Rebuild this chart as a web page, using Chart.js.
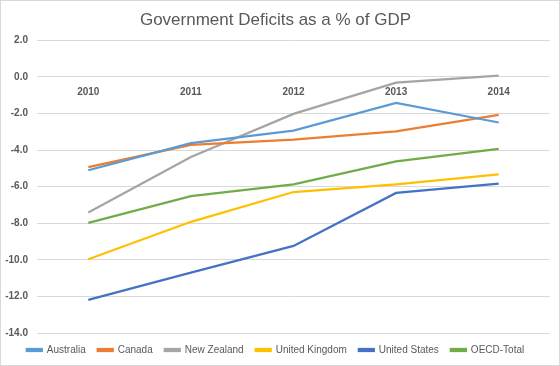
<!DOCTYPE html>
<html>
<head>
<meta charset="utf-8">
<script src="https://cdn.jsdelivr.net/npm/chart.js@4.4.1/dist/chart.umd.min.js"></script>
<style>
  html, body { margin: 0; padding: 0; background: #fff; }
  #wrap { width: 560px; height: 366px; box-sizing: border-box; border: 1px solid #d9d9d9; }
</style>
</head>
<body>
<div id="wrap"><canvas id="deficitChart"></canvas></div>
<script>
const years = ['2010', '2011', '2012', '2013', '2014'];
const australia = [-5.1, -3.62, -2.93, -1.42, -2.49];
const canada = [-4.93, -3.71, -3.42, -2.98, -2.07];
const newZealand = [-7.41, -4.38, -2.02, -0.31, 0.07];
const unitedKingdom = [-9.97, -7.92, -6.29, -5.87, -5.32];
const unitedStates = [-12.19, -10.7, -9.24, -6.34, -5.83];
const oecdTotal = [-7.98, -6.52, -5.87, -4.62, -3.93];

const textGrey = '#595959';
const gridGrey = '#d9d9d9';

const makeLine = (label, data, colour) => ({
    label: label,
    data: data,
    borderColor: colour,
    backgroundColor: colour,
    borderWidth: 2.25,
    pointRadius: 0,
    fill: false,
    tension: 0
});

const ctx = document.getElementById('deficitChart').getContext('2d');
const deficitChart = new Chart(ctx, {
    type: 'line',
    data: {
        labels: years,
        datasets: [
            makeLine('Australia', australia, '#5b9bd5'),
            makeLine('Canada', canada, '#ed7d31'),
            makeLine('New Zealand', newZealand, '#a5a5a5'),
            makeLine('United Kingdom', unitedKingdom, '#ffc000'),
            makeLine('United States', unitedStates, '#4472c4'),
            makeLine('OECD-Total', oecdTotal, '#70ad47')
        ]
    },
    options: {
        responsive: true,
        maintainAspectRatio: false,
        animation: false,
        layout: { padding: { top: 0, left: 0, right: 9, bottom: 0 } },
        plugins: {
            title: {
                display: true,
                text: 'Government Deficits as a % of GDP',
                color: textGrey,
                font: { family: 'Liberation Sans', size: 17, weight: 'normal' },
                padding: { top: 9, bottom: 10 }
            },
            legend: {
                position: 'bottom',
                labels: {
                    color: textGrey,
                    font: { family: 'Liberation Sans', size: 10 },
                    boxWidth: 15,
                    boxHeight: 2,
                    padding: 12
                }
            },
            tooltip: { enabled: false }
        },
        scales: {
            x: {
                position: { y: 0 },
                offset: true,
                grid: { display: false, drawTicks: false },
                border: { display: false },
                ticks: {
                    color: textGrey,
                    font: { family: 'Liberation Sans', size: 10, weight: 'bold' },
                    padding: 9
                }
            },
            y: {
                min: -14,
                max: 2,
                grid: { color: gridGrey, drawTicks: false },
                border: { display: false },
                ticks: {
                    stepSize: 2,
                    color: textGrey,
                    font: { family: 'Liberation Sans', size: 10, weight: 'bold' },
                    padding: 9,
                    callback: (v) => Number(v).toFixed(1)
                },
                afterFit: (scale) => { scale.width = 36; }
            }
        }
    }
});
</script>
</body>
</html>
